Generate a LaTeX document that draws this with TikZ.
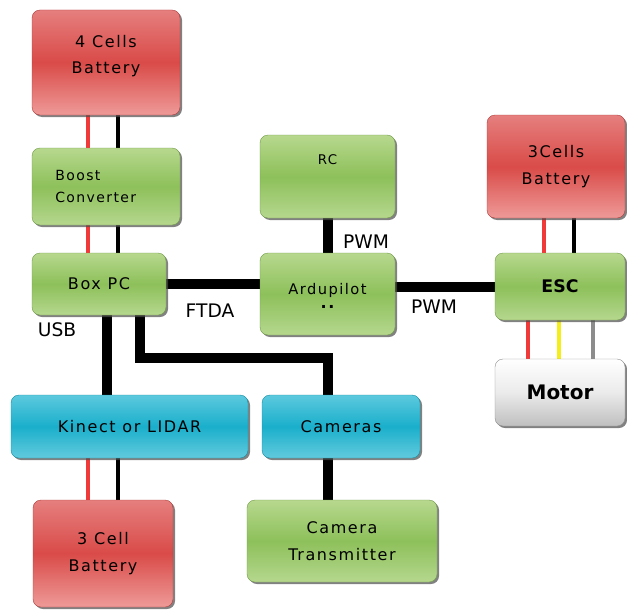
\documentclass[tikz,border=0pt]{standalone}
\usepackage{fontspec}
\setmainfont{DejaVu Sans}
\newfontfamily\boxfont{DejaVu Sans}[LetterSpace=10]
\usetikzlibrary{shadows,backgrounds,calc}
\definecolor{rTop}{HTML}{E57F7E}
\definecolor{rMid}{HTML}{D94B48}
\definecolor{rBot}{HTML}{EE9A98}
\definecolor{gTop}{HTML}{B7D88E}
\definecolor{gMid}{HTML}{8DC05A}
\definecolor{gBot}{HTML}{B5D78E}
\definecolor{cTop}{HTML}{5CC9DE}
\definecolor{cMid}{HTML}{1AAFCB}
\definecolor{cBot}{HTML}{62CADD}
\definecolor{wireRed}{HTML}{F03A3A}
\definecolor{wireYel}{HTML}{F5EE1A}
\definecolor{wireGray}{HTML}{8C8C8C}
\tikzset{
  blk/.style={rectangle, rounded corners=6pt, inner sep=0pt, align=center,
    font=\boxfont\fontsize{12}{15}\selectfont,
    drop shadow={shadow xshift=1.5pt, shadow yshift=-1.5pt, fill=black!70, opacity=0.7}},
  redbox/.style={blk, top color=rTop, bottom color=rBot, middle color=rMid, draw=rMid!80!black, line width=0.3pt},
  greenbox/.style={blk, top color=gTop, bottom color=gBot, middle color=gMid, draw=gMid!80!black, line width=0.3pt},
  cyanbox/.style={blk, top color=cTop, bottom color=cBot, middle color=cMid, draw=cMid!80!black, line width=0.3pt},
  graybox/.style={blk, top color=white, bottom color=black!25, middle color=black!8, draw=black!45, line width=0.3pt},
  bus/.style={line width=7.5pt, black},
  rw/.style={line width=2.4pt, wireRed},
  bw/.style={line width=2.4pt, black},
  yw/.style={line width=2.4pt, wireYel},
  gw/.style={line width=2.4pt, wireGray},
  lbl/.style={font=\fontsize{14}{16}\selectfont, inner sep=0pt}
}
\begin{document}
\begin{tikzpicture}[x=0.75pt,y=-0.75pt]
\useasboundingbox (0,0) rectangle (627,610);
% boxes
\node[redbox, minimum width=111pt, minimum height=78.75pt] (bat4) at (106,62.5) {4 Cells\\[5pt]Battery\\[-3pt]};
\node[greenbox, minimum width=111pt, minimum height=57.75pt, font=\boxfont\fontsize{10.5}{13}\selectfont] (boost) at (106,186.5) {\makebox[76pt][l]{Boost}\\[3pt]\makebox[76pt][l]{Converter}};
\node[greenbox, minimum width=100.5pt, minimum height=46.5pt] (boxpc) at (99,284) {Box PC};
\node[greenbox, minimum width=101.25pt, minimum height=62.25pt, font=\boxfont\fontsize{10}{13}\selectfont] (rc) at (327.5,176.5) {RC\\[12pt]\phantom{R}};
\node[greenbox, minimum width=101.25pt, minimum height=61.5pt, font=\boxfont\fontsize{11}{14}\selectfont] (ardu) at (327.5,294) {\phantom{.}\\[-4pt]Ardupilot\\[-3pt]{\bfseries\fontsize{12}{12}\selectfont ..}};
\node[redbox, minimum width=103.5pt, minimum height=77.25pt] (bat3r) at (556,166.5) {3Cells\\[5pt]Battery};
\node[greenbox, minimum width=97.5pt, minimum height=50.25pt, font=\fontsize{13}{15}\bfseries] (esc) at (560,286.5) {ESC};
\node[graybox, minimum width=97.5pt, minimum height=50.25pt, font=\fontsize{15}{17}\bfseries] (motor) at (560,392.5) {Motor};
\node[cyanbox, minimum width=177.75pt, minimum height=47.25pt] (kinect) at (129.5,426.5) {Kinect or LIDAR};
\node[cyanbox, minimum width=118.5pt, minimum height=47.25pt] (cameras) at (341,426.5) {Cameras};
\node[redbox, minimum width=105pt, minimum height=80.25pt] (bat3) at (103,553.5) {3 Cell\\[5pt]Battery};
\node[greenbox, minimum width=142.5pt, minimum height=61.5pt] (camtx) at (342,541) {Camera\\[5pt]Transmitter};
% labels
\node[lbl] (usb) at (57,330) {USB};
\node[lbl] (ftda) at (210,311) {FTDA};
\node[lbl] (pwm1) at (366,242) {PWM};
\node[lbl] (pwm2) at (434,307) {PWM};
\coordinate (bend) at (328,358);
\begin{pgfonlayer}{background}
  \draw[rw] ([xshift=-13.5pt]bat4.south) -- ([xshift=-13.5pt]boost.north);
  \draw[bw] ([xshift=9pt]bat4.south) -- ([xshift=9pt]boost.north);
  \draw[rw] ([xshift=-13.5pt]boost.south) -- ([xshift=-8.25pt]boxpc.north);
  \draw[bw] ([xshift=9pt]boost.south) -- ([xshift=14.25pt]boxpc.north);
  \draw[bus] (boxpc.east) -- (boxpc.east -| ardu.west);
  \draw[bus] (rc.south) -- (ardu.north);
  \draw[bus] (esc.west -| ardu.east) -- (esc.west);
  \draw[rw] ([xshift=-9pt]bat3r.south) -- ([xshift=-12pt]esc.north);
  \draw[bw] ([xshift=13.5pt]bat3r.south) -- ([xshift=10.5pt]esc.north);
  \draw[rw] ([xshift=-24pt]esc.south) -- ([xshift=-24pt]motor.north);
  \draw[yw] ([xshift=-0.75pt]esc.south) -- ([xshift=-0.75pt]motor.north);
  \draw[gw] ([xshift=24.75pt]esc.south) -- ([xshift=24.75pt]motor.north);
  \draw[bus] ([xshift=6pt]boxpc.south) -- ([xshift=6pt]boxpc.south |- kinect.north);
  \draw[bus, line join=miter] ([xshift=30.75pt]boxpc.south) |- (bend) -- (bend |- cameras.north);
  \draw[bus] ([xshift=-9.75pt]cameras.south) -- ([xshift=-10.5pt]camtx.north);
  \draw[rw] ([xshift=-31.125pt]kinect.south) -- ([xshift=-11.25pt]bat3.north);
  \draw[bw] ([xshift=-8.625pt]kinect.south) -- ([xshift=11.25pt]bat3.north);
\end{pgfonlayer}
\end{tikzpicture}
\end{document}
